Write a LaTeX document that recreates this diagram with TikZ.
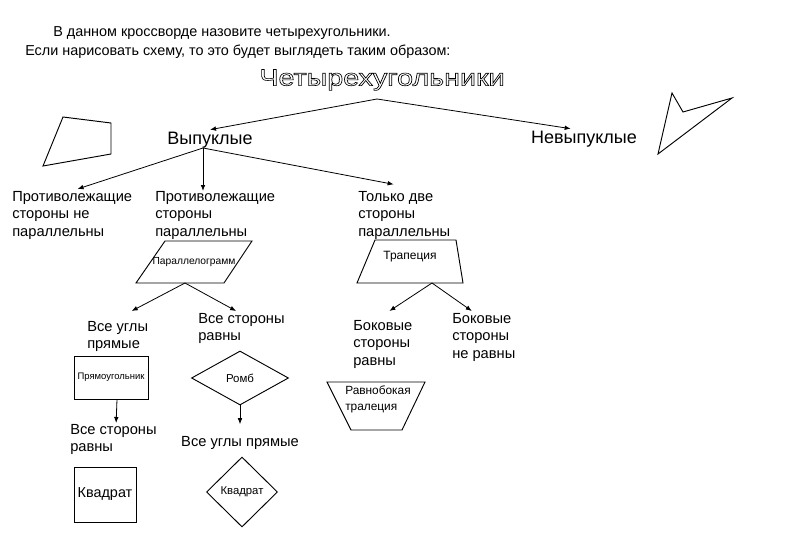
\documentclass[tikz,border=0pt]{standalone}
\usepackage{fontspec}
\setmainfont{Liberation Sans}
\usetikzlibrary{arrows.meta}
\usetikzlibrary{shapes.geometric}

\newcommand{\hollowtext}[1]{\special{pdf:literal direct 1 Tr 0.45 w}#1\special{pdf:literal direct 0 Tr}}

\tikzset{
  arr/.style={-{Latex[length=4.5pt, width=3.5pt]}, line width=0.6pt},
  lbl/.style={anchor=north west, align=left, inner sep=0pt, font=\fontsize{11}{13.1}\selectfont},
  shp/.style={draw, line width=0.7pt, inner sep=0pt, align=center},
  outl/.style={line width=0.7pt, line join=miter},
}

\begin{document}
\begin{tikzpicture}[x=0.75pt, y=-0.75pt]
      \useasboundingbox (0,0) rectangle (800,553);

      \node[anchor=west, inner sep=0pt, font=\fontsize{10.8}{12}\selectfont] (intro) at (53,33) {В данном кроссворде назовите четырехугольники.};
      \node[anchor=west, inner sep=0pt, font=\fontsize{10.8}{12}\selectfont] (intro2) at (25,52) {Если нарисовать схему, то это будет выглядеть таким образом:};

      \node[inner sep=0pt, font=\fontsize{17.5}{18}\selectfont] (tit) at (382,80) {\hollowtext{\scalebox{1.23}[1]{Четырехугольники}}};
      \node[inner sep=0pt, font=\fontsize{13.5}{15}\selectfont] (vyp) at (210,140) {Выпуклые};
      \node[inner sep=0pt, font=\fontsize{13.5}{15}\selectfont] (nevyp) at (584,139) {Невыпуклые};

      \node[lbl] (opp1) at (12,191) {Противолежащие\\стороны не\\параллельны};
      \node[lbl] (opp2) at (155,191) {Противолежащие\\стороны\\параллельны};
      \node[lbl] (two) at (358,191) {Только две\\стороны\\параллельны};

      % parallelogram and trapezoids
      \draw[outl] (136,283) -- (165,241) -- (252,241) -- (224,283) -- cycle;
      \node[inner sep=0pt, font=\fontsize{7.7}{9}\selectfont] (par) at (194,262) {Параллелограмм};
      \coordinate (parB) at (185,283);
      \draw[outl] (357,283) -- (375,240) -- (456,240) -- (463,283) -- cycle;
      \node[inner sep=0pt, font=\fontsize{9}{10}\selectfont] (trap) at (410,257) {Трапеция};
      \coordinate (trapB) at (432,283);
      \draw[outl] (327,382) -- (425,382) -- (402,430) -- (351,430) -- cycle;
      \node[inner sep=0pt, align=left, font=\fontsize{8.9}{12}\selectfont] (eqtrap) at (378,399) {Равнобокая\\тралеция};

      \node[lbl] (allR) at (87,321) {Все углы\\прямые};
      \node[lbl] (allS) at (198,313) {Все стороны\\равны};
      \node[lbl] (sideEq) at (353,320) {Боковые\\стороны\\равны};
      \node[lbl] (sideNeq) at (452,313) {Боковые\\стороны\\не равны};

      \node[shp, rectangle, minimum width=55.5pt, minimum height=32.25pt, font=\fontsize{7.1}{8}\selectfont] (rectA) at (111,377.5) {Прямоугольник};
      \node[shp, diamond, minimum width=72.75pt, minimum height=40.5pt, font=\fontsize{8.6}{10}\selectfont] (romb) at (240,378) {Ромб};

      \node[lbl] (sideR) at (70,424) {Все стороны\\равны};
      \node[inner sep=0pt, font=\fontsize{11}{13.1}\selectfont] (allR2) at (240,443) {Все углы прямые};

      \node[shp, rectangle, minimum width=46.5pt, minimum height=41.25pt, font=\fontsize{10.8}{12}\selectfont] (sq1) at (105,494.5) {Квадрат};
      \node[shp, diamond, minimum width=53.25pt, minimum height=52.5pt, font=\fontsize{8.5}{10}\selectfont] (sq2) at (242,492) {Квадрат};

      % example figures
      \draw[outl] (63,117) -- (111,123) -- (111,154) -- (43,166) -- cycle;
      \draw[outl] (672,93) -- (683,112) -- (732,98) -- (658,154) -- cycle;

      \coordinate (apex) at (377,99);
      \coordinate (fork) at (203,148);
      \draw[arr] (apex) -- ([yshift=1.5pt]vyp.north);
      \draw[arr] (apex) -- ([xshift=-10pt, yshift=1.5pt]nevyp.north);
      \draw[arr] (fork) -- ([xshift=4pt, yshift=1.5pt]opp1.north);
      \draw[arr] (fork) -- (fork |- opp2.north);
      \draw[arr] (fork) -- ([xshift=-8pt, yshift=5pt]two.north);
      \draw[arr] (parB) -- ([xshift=10.5pt, yshift=7.5pt]allR.north);
      \draw[arr] (parB) -- ([xshift=-4pt, yshift=1.5pt]allS.north);
      \draw[arr] (trapB) -- ([xshift=5pt, yshift=6.75pt]sideEq.north);
      \draw[arr] (trapB) -- ([xshift=-9pt, yshift=1.5pt]sideNeq.north);
      \draw[arr] ([xshift=4.5pt]rectA.south) -- ([xshift=2pt, yshift=0.75pt]sideR.north);
      \draw[arr] (romb.south) -- ([yshift=9pt]allR2.north);
    \end{tikzpicture}
\end{document}
